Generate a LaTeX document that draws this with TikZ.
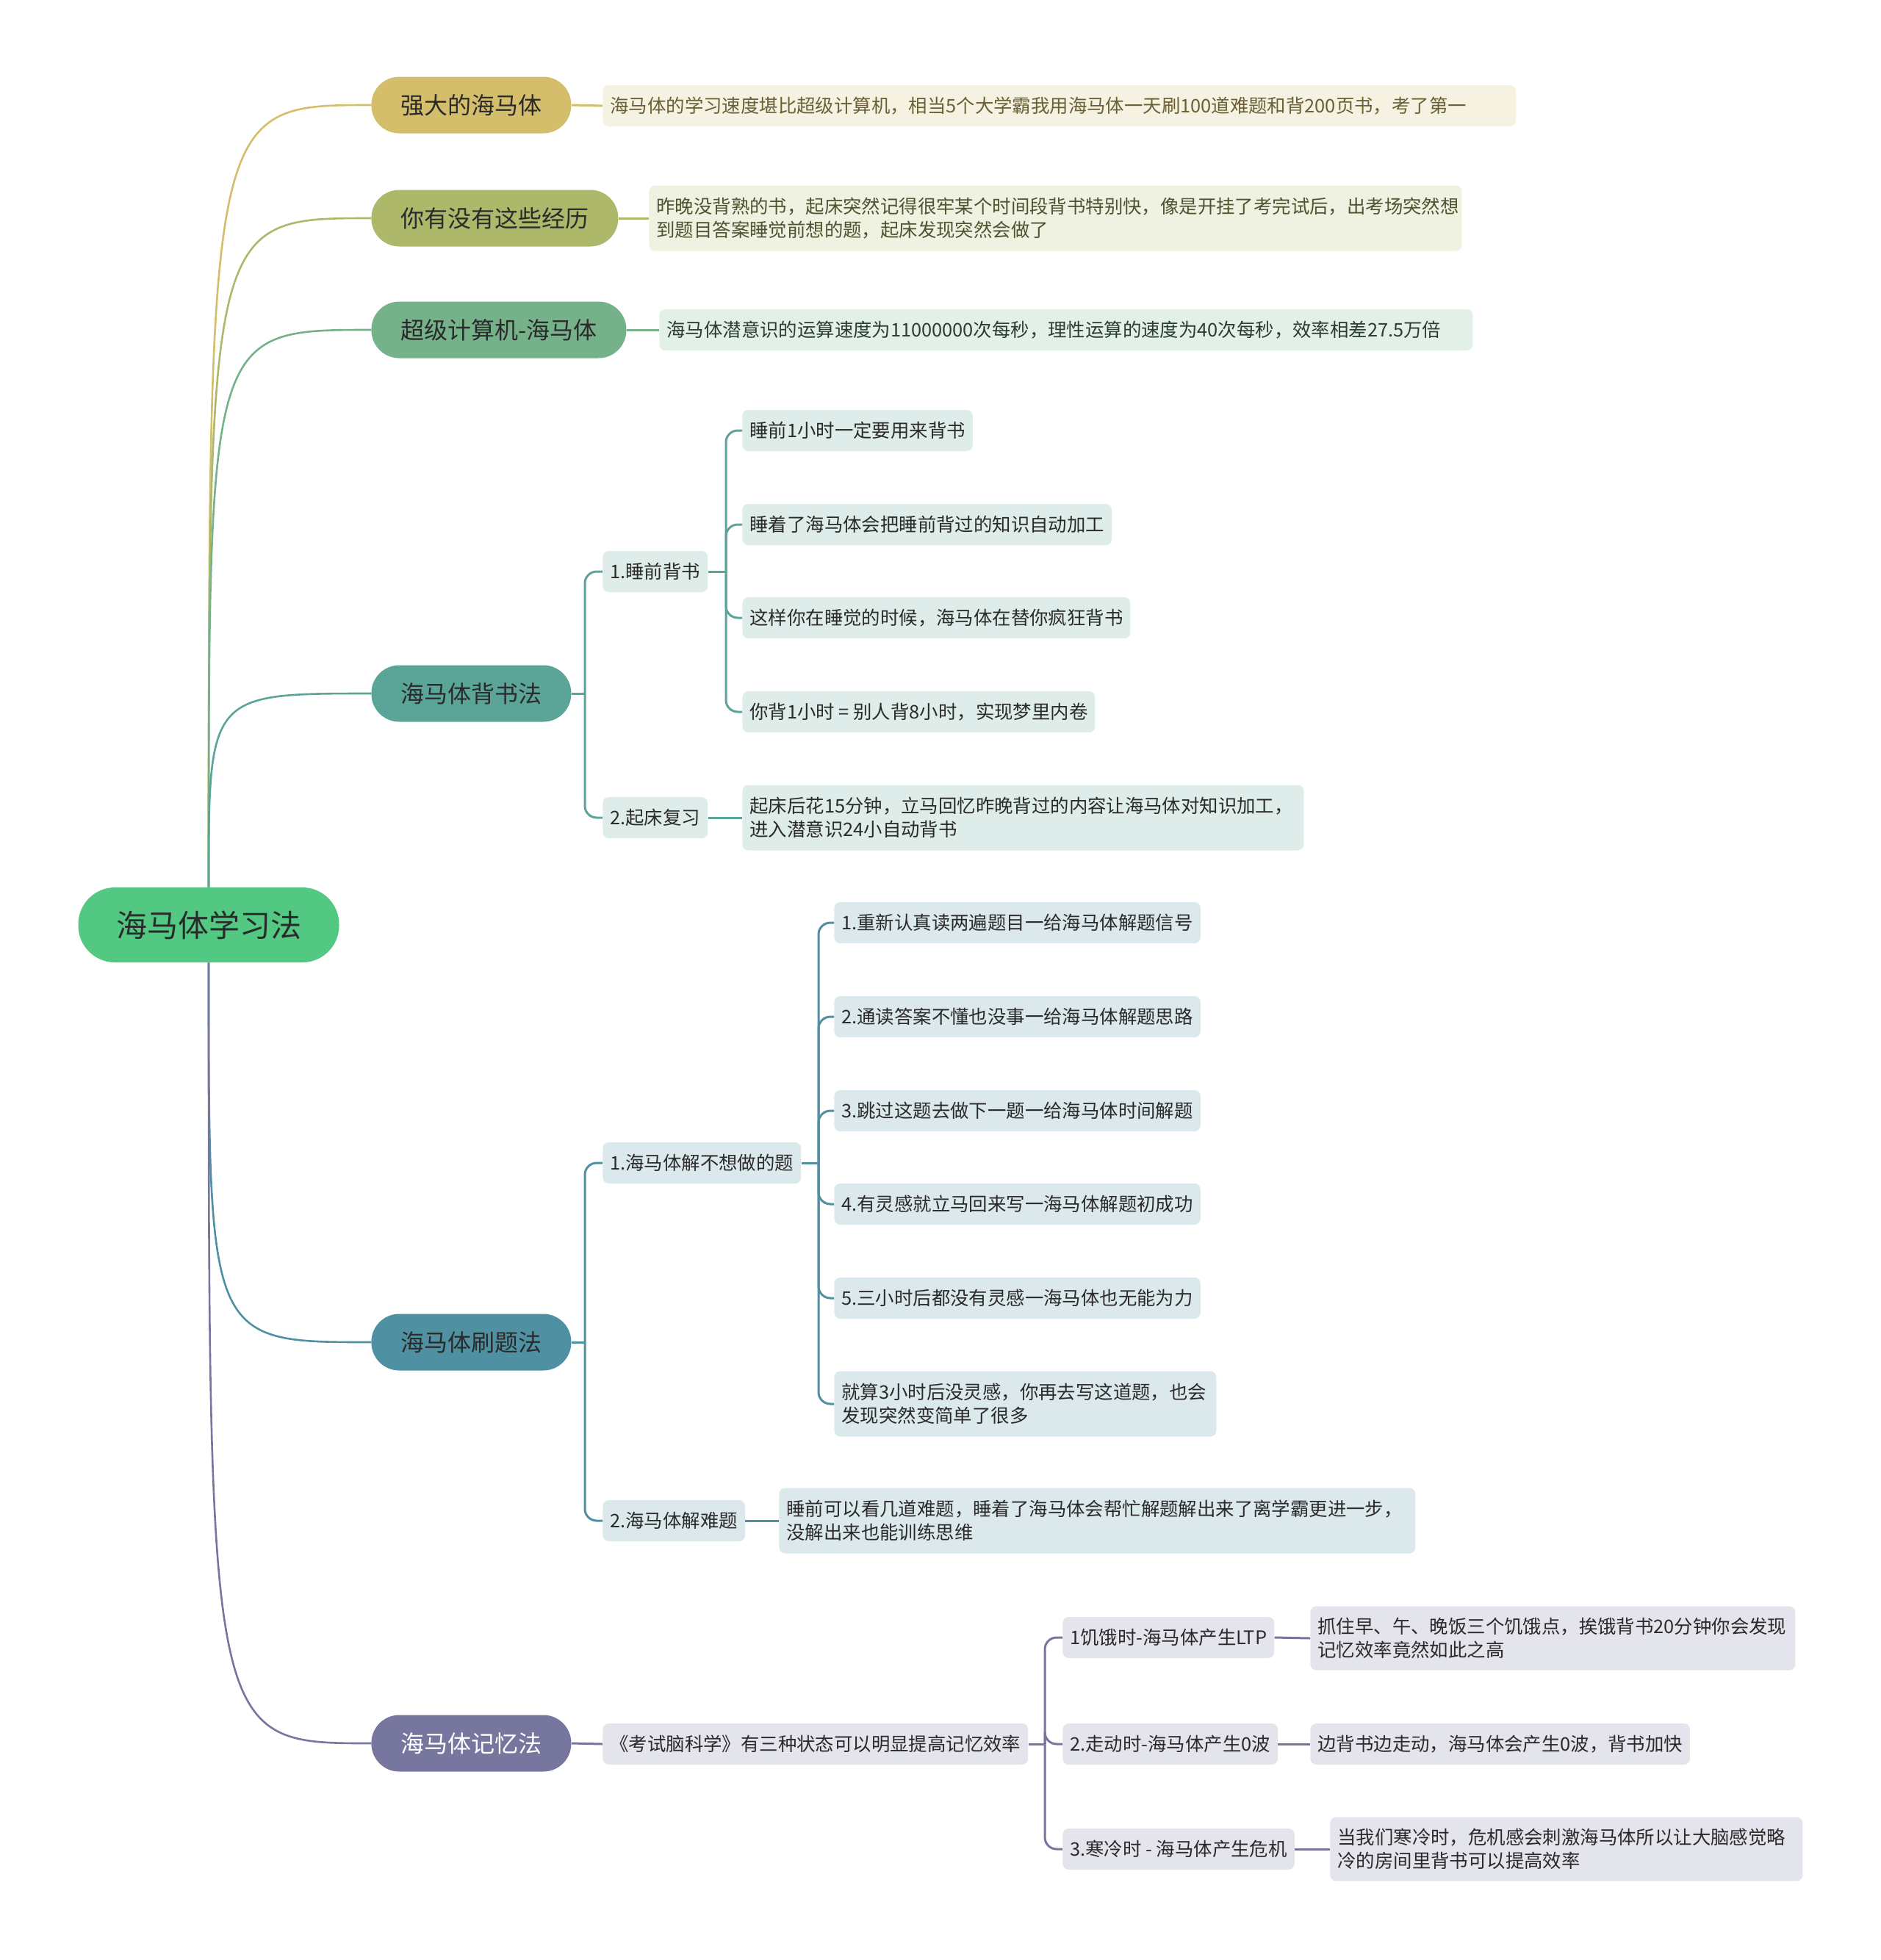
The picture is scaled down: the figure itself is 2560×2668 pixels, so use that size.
\documentclass[tikz,border=0pt]{standalone}
\usepackage{fontspec}
\setmainfont{Noto Sans CJK SC}
\usetikzlibrary{positioning}
\definecolor{maproot}{HTML}{52C882}
\definecolor{mapgold}{HTML}{D4BE6C}
\definecolor{mapolive}{HTML}{AEB86A}
\definecolor{mapsage}{HTML}{75B28A}
\definecolor{mapteal}{HTML}{5AA597}
\definecolor{mapblue}{HTML}{4F90A2}
\definecolor{mapviolet}{HTML}{76769E}
\definecolor{maptext}{HTML}{2A2A2A}
\tikzset{
  rootbox/.style={fill=maproot, rounded corners=25pt, inner xsep=25.75pt, inner ysep=0pt,
    minimum height=51pt, font=\fontsize{21}{25}\selectfont, text=maptext},
  topicbox/.style={rounded corners=19pt, inner xsep=20pt, inner ysep=0pt, minimum height=38.5pt,
    font=\fontsize{16}{19}\selectfont, text=maptext, anchor=west},
  leafbox/.style={rounded corners=4pt, inner xsep=5pt, inner ysep=3pt, minimum height=28pt,
    font=\fontsize{12.7}{16}\selectfont, text=maptext, anchor=west, align=left},
  rootlink/.style={line width=1.3pt},
  maplink/.style={line width=1.5pt, rounded corners=8pt},
}
\begin{document}
\begin{tikzpicture}[x=0.5pt, y=-0.5pt]
  \useasboundingbox (0,0) rectangle (2560,2668);
  % Zentrum
  \node[rootbox] (root) at (284,1259) {海马体学习法};
  % Hauptthemen
  \node[topicbox, fill=mapgold] (power) at (505,143) {强大的海马体};
  \node[topicbox, fill=mapolive] (exper) at (505,297) {你有没有这些经历};
  \node[topicbox, fill=mapsage] (super) at (505,449) {超级计算机-海马体};
  \node[topicbox, fill=mapteal] (recite) at (505,944) {海马体背书法};
  \node[topicbox, fill=mapblue] (drill) at (505,1827) {海马体刷题法};
  \node[topicbox, fill=mapviolet, text=white] (memory) at (505,2373) {海马体记忆法};
  \foreach \n/\c in {power/mapgold, exper/mapolive, super/mapsage, recite/mapteal}
    \draw[rootlink, \c] (root.north) .. controls (root.north |- \n.west) .. (\n.west);
  \foreach \n/\c in {drill/mapblue, memory/mapviolet}
    \draw[rootlink, \c] (root.south) .. controls (root.south |- \n.west) .. (\n.west);

  % obere drei Äste
  \node[leafbox, fill=mapgold!20, text=mapgold!50!black, text width=611.5pt] (power1) at (820,144)
    {海马体的学习速度堪比超级计算机，相当5个大学霸我用海马体一天刷100道难题和背200页书，考了第一};
  \node[leafbox, fill=mapolive!20, text=mapolive!45!black, text width=543pt, minimum height=44.5pt] (exper1) at (883,297)
    {昨晚没背熟的书，起床突然记得很牢某个时间段背书特别快，像是开挂了考完试后，出考场突然想\\到题目答案睡觉前想的题，起床发现突然会做了};
  \node[leafbox, fill=mapsage!20, text=mapsage!35!black, text width=543.5pt] (super1) at (897,449)
    {海马体潜意识的运算速度为11000000次每秒，理性运算的速度为40次每秒，效率相差27.5万倍};
  \draw[maplink, mapgold] (power.east) -- (power1.west);
  \draw[maplink, mapolive] (exper.east) -- (exper1.west);
  \draw[maplink, mapsage] (super.east) -- (super1.west);

  %背书法
  \coordinate (recitej) at (796,944);
  \node[leafbox, fill=mapteal!20] (recite1) at (820,778) {1.睡前背书};
  \node[leafbox, fill=mapteal!20] (recite2) at (820,1113) {2.起床复习};
  \draw[maplink, mapteal] (recite.east) -- (recitej);
  \foreach \n in {recite1, recite2}
    \draw[maplink, mapteal] (recitej) |- (\n.west);
  \coordinate (recite1j) at (988,778);
  \node[leafbox, fill=mapteal!20] (recite11) at (1010,586) {睡前1小时一定要用来背书};
  \node[leafbox, fill=mapteal!20] (recite12) at (1010,714) {睡着了海马体会把睡前背过的知识自动加工};
  \node[leafbox, fill=mapteal!20] (recite13) at (1010,841) {这样你在睡觉的时候，海马体在替你疯狂背书};
  \node[leafbox, fill=mapteal!20] (recite14) at (1010,969) {你背1小时 = 别人背8小时，实现梦里内卷};
  \draw[maplink, mapteal] (recite1.east) -- (recite1j);
  \foreach \n in {recite11, recite12, recite13, recite14}
    \draw[maplink, mapteal] (recite1j) |- (\n.west);
  \node[leafbox, fill=mapteal!20, text width=372pt, minimum height=44.5pt] (recite21) at (1010,1113)
    {起床后花15分钟，立马回忆昨晚背过的内容让海马体对知识加工，\\进入潜意识24小自动背书};
  \draw[maplink, mapteal] (recite2.east) -- (recite21.west);

  % 刷题法
  \coordinate (drillj) at (796,1827);
  \node[leafbox, fill=mapblue!20] (drill1) at (820,1583) {1.海马体解不想做的题};
  \node[leafbox, fill=mapblue!20] (drill2) at (820,2070) {2.海马体解难题};
  \draw[maplink, mapblue] (drill.east) -- (drillj);
  \foreach \n in {drill1, drill2}
    \draw[maplink, mapblue] (drillj) |- (\n.west);
  \coordinate (drill1j) at (1114,1583);
  \node[leafbox, fill=mapblue!20] (drill11) at (1135,1256) {1.重新认真读两遍题目一给海马体解题信号};
  \node[leafbox, fill=mapblue!20] (drill12) at (1135,1384) {2.通读答案不懂也没事一给海马体解题思路};
  \node[leafbox, fill=mapblue!20] (drill13) at (1135,1512) {3.跳过这题去做下一题一给海马体时间解题};
  \node[leafbox, fill=mapblue!20] (drill14) at (1135,1639) {4.有灵感就立马回来写一海马体解题初成功};
  \node[leafbox, fill=mapblue!20] (drill15) at (1135,1767) {5.三小时后都没有灵感一海马体也无能为力};
  \node[leafbox, fill=mapblue!20, text width=250pt, minimum height=44.5pt] (drill16) at (1135,1911)
    {就算3小时后没灵感，你再去写这道题，也会\\发现突然变简单了很多};
  \draw[maplink, mapblue] (drill1.east) -- (drill1j);
  \foreach \n in {drill11, drill12, drill13, drill14, drill15, drill16}
    \draw[maplink, mapblue] (drill1j) |- (\n.west);
  \node[leafbox, fill=mapblue!20, text width=423pt, minimum height=44.5pt] (drill21) at (1060,2070)
    {睡前可以看几道难题，睡着了海马体会帮忙解题解出来了离学霸更进一步，\\没解出来也能训练思维};
  \draw[maplink, mapblue] (drill2.east) -- (drill21.west);

  % 记忆法
  \node[leafbox, fill=mapviolet!20] (memory1) at (820,2374) {《考试脑科学》有三种状态可以明显提高记忆效率};
  \draw[maplink, mapviolet] (memory.east) -- (memory1.west);
  \coordinate (memory1j) at (1422,2374);
  \node[leafbox, fill=mapviolet!20] (memory11) at (1446,2229) {1饥饿时-海马体产生LTP};
  \node[leafbox, fill=mapviolet!20] (memory12) at (1446,2374) {2.走动时-海马体产生0波};
  \node[leafbox, fill=mapviolet!20] (memory13) at (1446,2517) {3.寒冷时 - 海马体产生危机};
  \draw[maplink, mapviolet] (memory1.east) -- (memory1j);
  \foreach \n in {memory11, memory12, memory13}
    \draw[maplink, mapviolet] (memory1j) |- (\n.west);
  \node[leafbox, fill=mapviolet!20, text width=320pt, minimum height=43.5pt] (memory111) at (1783,2230)
    {抓住早、午、晚饭三个饥饿点，挨饿背书20分钟你会发现\\记忆效率竟然如此之高};
  \node[leafbox, fill=mapviolet!20] (memory121) at (1783,2374) {边背书边走动，海马体会产生0波，背书加快};
  \node[leafbox, fill=mapviolet!20, text width=311.5pt, minimum height=43.5pt] (memory131) at (1810,2517)
    {当我们寒冷时，危机感会刺激海马体所以让大脑感觉略\\冷的房间里背书可以提高效率};
  \draw[maplink, mapviolet] (memory11.east) -- (memory111.west);
  \draw[maplink, mapviolet] (memory12.east) -- (memory121.west);
  \draw[maplink, mapviolet] (memory13.east) -- (memory131.west);
\end{tikzpicture}
\end{document}
